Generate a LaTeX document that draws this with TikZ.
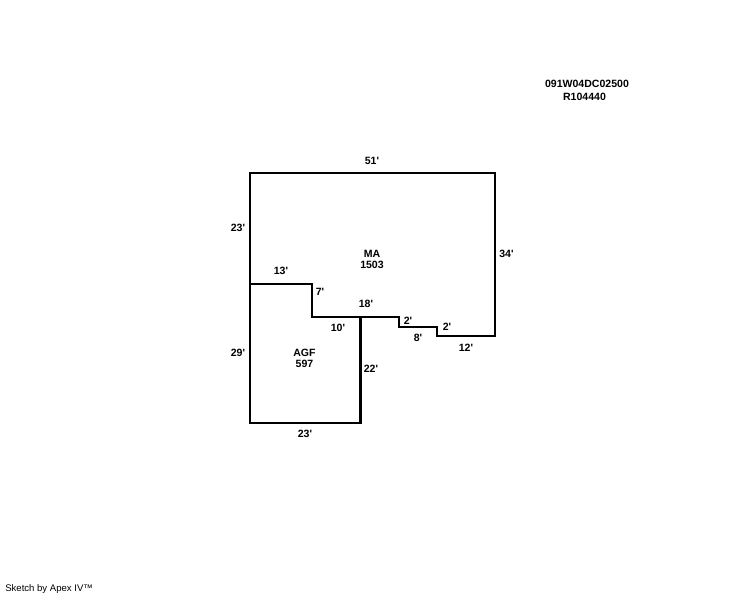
\documentclass[tikz,border=0pt]{standalone}
\usepackage{fontspec}
\newfontfamily\sketchfont{Liberation Sans}
\tikzset{
  wall/.style={line width=2.2*0.7087pt, line join=miter},
  dimtext/.style={font=\sketchfont\bfseries\fontsize{7.5}{8}\selectfont, inner sep=0pt, text=black},
  credit/.style={font=\sketchfont\fontsize{6.8}{8}\selectfont, inner sep=0pt, anchor=west}
}
\begin{document}
\begin{tikzpicture}[x=0.025cm,y=-0.025cm]
    \useasboundingbox (0,0) rectangle (744,595);
    % MA
    \draw [wall] (250,173) -- (495,173) -- (495,336) -- (437,336) -- (437,327) -- (399,327) -- (399,317) -- (312,317) -- (312,284) -- (250,284) -- cycle;
    % AGF
    \draw [wall] (250,284) -- (312,284) -- (312,317) -- (361,317) -- (361,423) -- (250,423) -- cycle;
    \draw [wall] (360,317) -- (360,423);
    \node [dimtext] (areama) at (372,254) {MA};
    \node [dimtext] (sizema) at (372,265) {1503};
    \node [dimtext] (areaagf) at (304.5,353) {AGF};
    \node [dimtext] (sizeagf) at (304.5,364) {597};
    \node [dimtext] (dimtop) at (372,160.5) {51'};
    \node [dimtext] (dimleftup) at (238,228) {23'};
    \node [dimtext] (dimright) at (506.5,254) {34'};
    \node [dimtext] (dimnotch) at (281,271) {13'};
    \node [dimtext] (dimjog) at (320,292) {7'};
    \node [dimtext] (dimmid) at (366,304) {18'};
    \node [dimtext] (dimstepa) at (408,321) {2'};
    \node [dimtext] (dimstepb) at (447,327) {2'};
    \node [dimtext] (dimstepc) at (418,338) {8'};
    \node [dimtext] (dimlow) at (466,348) {12'};
    \node [dimtext] (diminner) at (338,328) {10'};
    \node [dimtext] (dimleftlow) at (238,353) {29'};
    \node [dimtext] (dimagf) at (371,369) {22'};
    \node [dimtext] (dimbottom) at (305,434) {23'};
    \node [dimtext] (parcel) at (587,84) {091W04DC02500};
    \node [dimtext] (account) at (584.5,97) {R104440};
    \node [credit] (sketchby) at (5,589) {Sketch by Apex IV\texttrademark};
  \end{tikzpicture}
\end{document}
